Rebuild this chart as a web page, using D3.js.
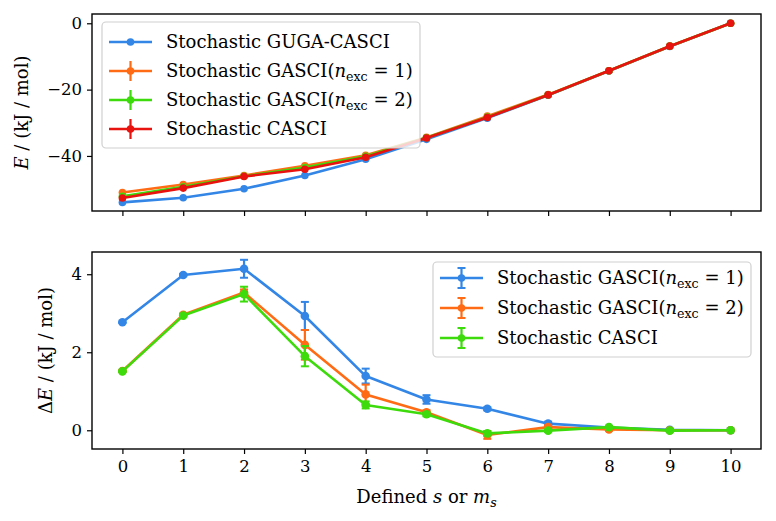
<!DOCTYPE html>
<html>
<head>
<meta charset="utf-8">
<script src="https://cdn.jsdelivr.net/npm/d3@7"></script>
<style>
  html, body { margin: 0; padding: 0; background: #fff; }
  svg { display: block; }
</style>
</head>
<body>
<svg id="chart" width="776" height="521" font-family="DejaVu Serif"></svg>
<script>
// ---------- data ----------
const sValues = [0, 1, 2, 3, 4, 5, 6, 7, 8, 9, 10];
const xTickLabels = ["0","1","2","3","4","5","6","7","8","9","10"];

// Top panel: E / (kJ/mol)
const topGuga   = [-54.0, -52.6, -49.9, -45.9, -41.0, -35.0, -28.6, -21.7, -14.4, -7.0, 0.0];
const topGas1   = [-51.0, -48.6, -45.9, -43.0, -39.8, -34.4, -28.0, -21.5, -14.3, -6.9, 0.0];
const topGas2   = [-52.2, -49.3, -46.1, -43.5, -40.1, -34.5, -28.3, -21.6, -14.3, -6.9, 0.0];
const topCasci  = [-52.7, -49.7, -46.2, -44.0, -40.4, -34.6, -28.4, -21.6, -14.3, -6.9, 0.0];
const topErr    = [0.1, 0.1, 0.1, 0.1, 0.1, 0.1, 0.1, 0.1, 0.1, 0.1, 0.0];
const topYTicks = [-40, -20, 0];

// Bottom panel: ΔE / (kJ/mol)
const botGas1    = [2.77, 3.98, 4.14, 2.93, 1.39, 0.79, 0.55, 0.17, 0.07, 0.01, 0.0];
const botGas1Err = [0.02, 0.03, 0.23, 0.36, 0.19, 0.11, 0.04, 0.05, 0.03, 0.02, 0.0];
const botGas2    = [1.52, 2.96, 3.53, 2.19, 0.92, 0.46, -0.12, 0.08, 0.02, 0.00, 0.0];
const botGas2Err = [0.02, 0.03, 0.08, 0.38, 0.25, 0.05, 0.10, 0.05, 0.03, 0.02, 0.0];
const botCasci    = [1.51, 2.94, 3.49, 1.90, 0.65, 0.41, -0.08, -0.01, 0.08, -0.01, 0.0];
const botCasciErr = [0.02, 0.03, 0.19, 0.26, 0.09, 0.05, 0.05, 0.03, 0.03, 0.02, 0.0];
const botYTicks = [0, 2, 4];

const colBlue = "#3386e6", colOrange = "#ff6b14", colGreen = "#3ddb0b", colRed = "#e8120e";

// ---------- layout ----------
const FONT = "DejaVu Serif";
const svg = d3.select("#chart");
const L = 92, R = 761;
const top1 = 14, bot1 = 211, top2 = 252, bot2 = 449;
const FS = 18, TFS = 16.5;

const x = d3.scaleLinear().domain([-0.5, 10.5]).range([L, R]);
const yTop = d3.scaleLinear().domain([-56.6, 2.8]).range([bot1, top1]);
const yBot = d3.scaleLinear().domain([-0.48, 4.57]).range([bot2, top2]);

function styleAxis(g) {
  g.attr("font-family", FONT).attr("font-size", TFS);
  g.selectAll("path").remove();
  g.selectAll("line").attr("stroke", "#000").attr("stroke-width", 1.2);
  g.selectAll("text").attr("font-family", FONT).attr("font-size", TFS).attr("fill", "#000");
}

// x axes
svg.append("g").attr("transform", `translate(0,${bot1})`)
  .call(d3.axisBottom(x).tickValues(sValues).tickSize(5).tickFormat(""))
  .call(styleAxis);
svg.append("g").attr("transform", `translate(0,${bot2})`)
  .call(d3.axisBottom(x).tickValues(sValues).tickSize(5).tickPadding(6).tickFormat((d, i) => xTickLabels[i]))
  .call(styleAxis);

// y axes
svg.append("g").attr("transform", `translate(${L},0)`)
  .call(d3.axisLeft(yTop).tickValues(topYTicks).tickSize(5).tickPadding(5)
        .tickFormat(d => d < 0 ? "\u2212" + Math.abs(d) : String(d)))
  .call(styleAxis);
svg.append("g").attr("transform", `translate(${L},0)`)
  .call(d3.axisLeft(yBot).tickValues(botYTicks).tickSize(5).tickPadding(5).tickFormat(d => String(d)))
  .call(styleAxis);

// clip paths
const defs = svg.append("defs");
defs.append("clipPath").attr("id", "c1").append("rect").attr("x", L).attr("y", top1).attr("width", R - L).attr("height", bot1 - top1);
defs.append("clipPath").attr("id", "c2").append("rect").attr("x", L).attr("y", top2).attr("width", R - L).attr("height", bot2 - top2);

function drawSeries(g, yScale, vals, errs, color, capW, r) {
  const pts = sValues.map((s, i) => ({ s, v: vals[i], e: errs ? errs[i] : 0 }));
  g.append("path").datum(pts)
    .attr("d", d3.line().x(d => x(d.s)).y(d => yScale(d.v)))
    .attr("fill", "none").attr("stroke", color).attr("stroke-width", 2.6)
    .attr("stroke-linejoin", "round");
  if (errs) {
    const eg = g.append("g");
    pts.forEach(d => {
      if (d.e <= 0) return;
      eg.append("line").attr("x1", x(d.s)).attr("x2", x(d.s))
        .attr("y1", yScale(d.v - d.e)).attr("y2", yScale(d.v + d.e))
        .attr("stroke", color).attr("stroke-width", 2.2);
      if (capW > 0) {
        [d.v - d.e, d.v + d.e].forEach(c => {
          eg.append("line").attr("x1", x(d.s) - capW).attr("x2", x(d.s) + capW)
            .attr("y1", yScale(c)).attr("y2", yScale(c))
            .attr("stroke", color).attr("stroke-width", 2);
        });
      }
    });
  }
  g.selectAll(null).data(pts).enter().append("circle")
    .attr("cx", d => x(d.s)).attr("cy", d => yScale(d.v)).attr("r", r).attr("fill", color);
}

const g1 = svg.append("g").attr("clip-path", "url(#c1)");
drawSeries(g1, yTop, topGuga, null, colBlue, 0, 3.8);
drawSeries(g1, yTop, topGas1, topErr, colOrange, 0, 3.8);
drawSeries(g1, yTop, topGas2, topErr, colGreen, 0, 3.8);
drawSeries(g1, yTop, topCasci, topErr, colRed, 0, 3.8);

const g2 = svg.append("g").attr("clip-path", "url(#c2)");
drawSeries(g2, yBot, botGas1, botGas1Err, colBlue, 4, 4.3);
drawSeries(g2, yBot, botGas2, botGas2Err, colOrange, 4, 4.3);
drawSeries(g2, yBot, botCasci, botCasciErr, colGreen, 4, 4.3);

// frames
[[top1, bot1], [top2, bot2]].forEach(([t, b]) => {
  svg.append("rect").attr("x", L).attr("y", t).attr("width", R - L).attr("height", b - t)
    .attr("fill", "none").attr("stroke", "#000").attr("stroke-width", 1.4);
});

// text helper
function labelText(t, parts) {
  t.attr("font-family", FONT).attr("fill", "#000");
  parts.forEach(p => {
    const ts = t.append("tspan").text(p.t);
    if (p.it) ts.attr("font-style", "italic");
    if (p.sub) ts.attr("dy", p.dy).attr("font-size", FS * 0.7);
    else if (p.dy) ts.attr("dy", p.dy);
  });
}
const gasLabel = n => [
  { t: "Stochastic GASCI(" }, { t: "n", it: true },
  { t: "exc", sub: true, dy: 4 }, { t: " = " + n + ")", dy: -4 }
];

function legend(lx, ly, w, h, rowY, items, cap) {
  const lg = svg.append("g");
  lg.append("rect").attr("x", lx).attr("y", ly).attr("width", w).attr("height", h)
    .attr("rx", 4).attr("fill", "rgba(255,255,255,0.8)").attr("stroke", "#d0d0d0").attr("stroke-width", 1.2);
  items.forEach((it, i) => {
    const cy = rowY[i];
    const hx0 = lx + 7, hx1 = lx + 50, hm = (hx0 + hx1) / 2;
    lg.append("line").attr("x1", hx0).attr("x2", hx1).attr("y1", cy).attr("y2", cy)
      .attr("stroke", it.c).attr("stroke-width", 2.6);
    if (it.err) {
      lg.append("line").attr("x1", hm).attr("x2", hm).attr("y1", cy - 10).attr("y2", cy + 10)
        .attr("stroke", it.c).attr("stroke-width", 2.2);
      if (cap) [cy - 10, cy + 10].forEach(c => lg.append("line").attr("x1", hm - 4).attr("x2", hm + 4)
        .attr("y1", c).attr("y2", c).attr("stroke", it.c).attr("stroke-width", 2));
    }
    lg.append("circle").attr("cx", hm).attr("cy", cy).attr("r", 3.8).attr("fill", it.c);
    const t = lg.append("text").attr("x", lx + 64).attr("y", cy + 6).attr("font-size", FS);
    labelText(t, it.label);
  });
}

legend(102, 22, 318, 126, [42, 71, 100, 129], [
  { c: colBlue, err: false, label: [{ t: "Stochastic GUGA-CASCI" }] },
  { c: colOrange, err: true, label: gasLabel(1) },
  { c: colGreen, err: true, label: gasLabel(2) },
  { c: colRed, err: true, label: [{ t: "Stochastic CASCI" }] }
], false);

legend(433, 262, 318, 95, [278, 308, 338], [
  { c: colBlue, err: true, label: gasLabel(1) },
  { c: colOrange, err: true, label: gasLabel(2) },
  { c: colGreen, err: true, label: [{ t: "Stochastic CASCI" }] }
], true);

// axis labels
const yl1 = svg.append("text").attr("transform", `translate(28,${(top1 + bot1) / 2}) rotate(-90)`)
  .attr("text-anchor", "middle").attr("font-size", FS);
labelText(yl1, [{ t: "E", it: true }, { t: " / (kJ / mol)" }]);

const yl2 = svg.append("text").attr("transform", `translate(52,${(top2 + bot2) / 2}) rotate(-90)`)
  .attr("text-anchor", "middle").attr("font-size", FS);
labelText(yl2, [{ t: "\u0394" }, { t: "E", it: true }, { t: " / (kJ / mol)" }]);

const xl = svg.append("text").attr("x", (L + R) / 2).attr("y", 503)
  .attr("text-anchor", "middle").attr("font-size", FS);
labelText(xl, [{ t: "Defined " }, { t: "s", it: true }, { t: " or " }, { t: "m", it: true },
  { t: "s", it: true, sub: true, dy: 4 }]);
</script>
</body>
</html>
